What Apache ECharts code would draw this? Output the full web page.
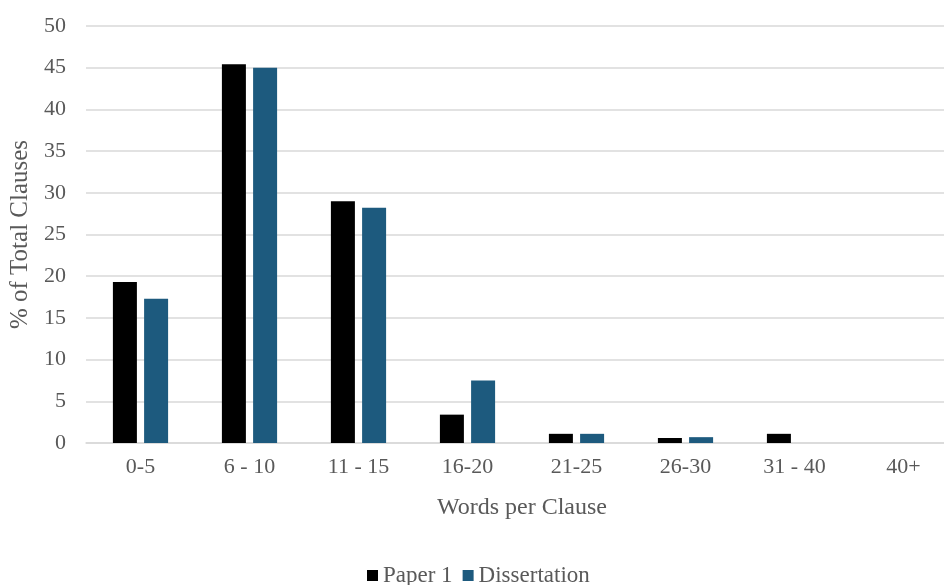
<!DOCTYPE html>
<html lang="en" style="height: 100%">
<head>
  <meta charset="utf-8">
</head>
<body style="height: 100%; margin: 0; background: #fff">
  <div id="container" style="width: 944px; height: 585px"></div>
  <script type="text/javascript" src="https://fastly.jsdelivr.net/npm/echarts@6/dist/echarts.min.js"></script>
  <script type="text/javascript">
    var categories = ['0-5', '6 - 10', '11 - 15', '16-20', '21-25', '26-30', '31 - 40', '40+'];
    var paper1 = [19.3, 45.4, 29.0, 3.4, 1.1, 0.6, 1.1, 0];
    var dissertation = [17.3, 45.0, 28.2, 7.5, 1.1, 0.7, 0, 0];

    var font = 'Liberation Serif';
    var textColor = '#595959';

    var myChart = echarts.init(document.getElementById('container'), null, { renderer: 'canvas' });

    var option = {
      animation: false,
      textStyle: { fontFamily: font },
      grid: { left: 86, width: 872, top: 26, bottom: 142, outerBoundsMode: 'none' },
      legend: {
        bottom: -7,
        left: 362,
        itemWidth: 11,
        itemHeight: 11,
        itemGap: 10,
        icon: 'rect',
        textStyle: { fontFamily: font, fontSize: 23, color: textColor },
        data: ['Paper 1', 'Dissertation']
      },
      xAxis: {
        type: 'category',
        data: categories,
        name: 'Words per Clause',
        nameLocation: 'middle',
        nameGap: 53,
        nameTextStyle: { fontFamily: font, fontSize: 24, color: textColor },
        axisTick: { show: false },
        axisLine: { lineStyle: { color: '#d9d9d9', width: 1.5 } },
        axisLabel: { fontFamily: font, fontSize: 22, color: textColor, margin: 13 }
      },
      yAxis: {
        type: 'value',
        min: 0,
        max: 50,
        interval: 5,
        name: '% of Total Clauses',
        nameLocation: 'middle',
        nameGap: 51,
        nameTextStyle: { fontFamily: font, fontSize: 25, color: textColor },
        axisLine: { show: false },
        axisTick: { show: false },
        axisLabel: { fontFamily: font, fontSize: 22, color: textColor, margin: 20 },
        splitLine: { lineStyle: { color: '#d9d9d9', width: 1.5 } }
      },
      series: [
        {
          name: 'Paper 1',
          type: 'bar',
          data: paper1,
          barWidth: 24,
          barGap: '30%',
          itemStyle: { color: '#000000' }
        },
        {
          name: 'Dissertation',
          type: 'bar',
          data: dissertation,
          barWidth: 24,
          barGap: '30%',
          itemStyle: { color: '#1d5a7e' }
        }
      ]
    };

    myChart.setOption(option);
    window.addEventListener('resize', myChart.resize);
  </script>
</body>
</html>
